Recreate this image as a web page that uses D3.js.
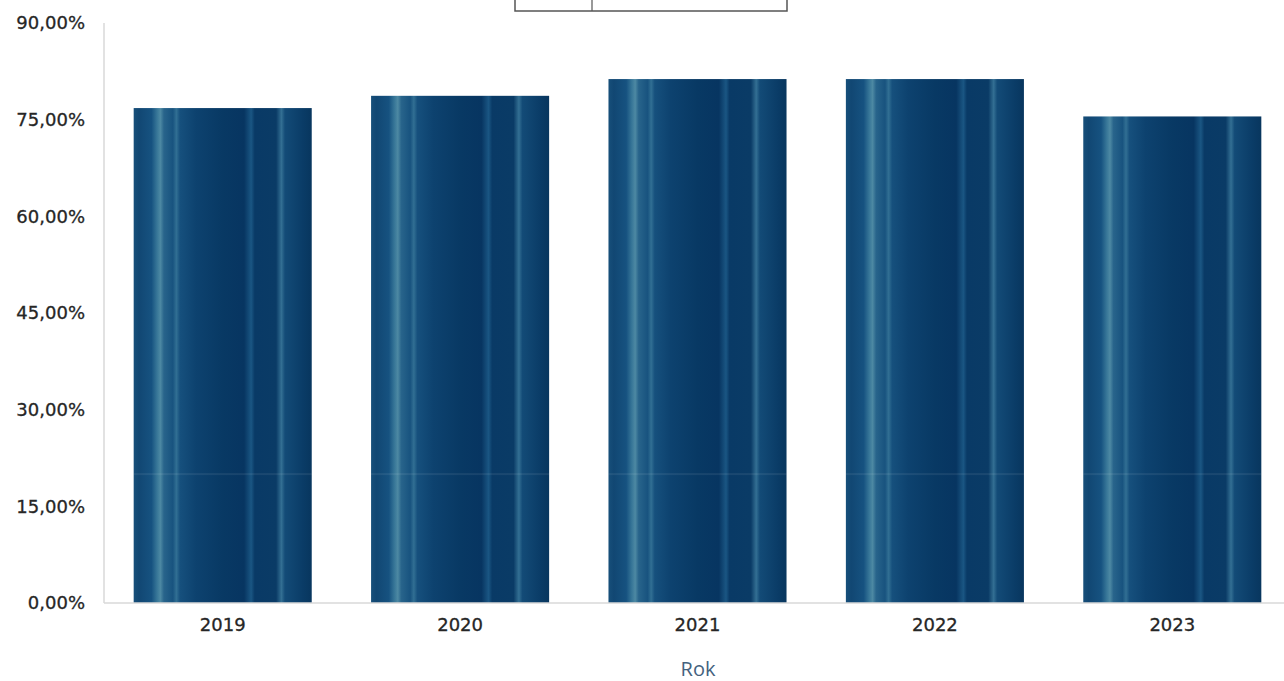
<!DOCTYPE html>
<html><head><meta charset="utf-8">
<script src="https://cdn.jsdelivr.net/npm/d3@7"></script>
<style>body{margin:0;background:#fff}svg{display:block}</style>
</head><body>
<svg id="c" width="1284" height="681"></svg>
<script>
const categories = ["2019","2020","2021","2022","2023"];
const values = [76.8, 78.7, 81.3, 81.3, 75.5];
const yTicks = [0,15,30,45,60,75,90];
const xTitle = "Rok";

const svg = d3.select("#c");
const W = 1284, H = 681;
const m = {left:104, top:23, bottom:603, right:1291};

const x = d3.scaleBand().domain(categories).range([m.left, m.right]).paddingInner(0.25).paddingOuter(0.125);
const y = d3.scaleLinear().domain([0,90]).range([m.bottom, m.top]);

const defs = svg.append("defs");
const g = defs.append("linearGradient").attr("id","barg").attr("x1","0").attr("x2","1").attr("y1","0").attr("y2","0");
[[0,"#174f7a"],[0.03,"#114773"],[0.10,"#165280"],[0.13,"#367597"],[0.15,"#4d89a3"],[0.17,"#28648b"],[0.22,"#18537f"],[0.24,"#316f93"],[0.26,"#16507d"],[0.35,"#0d426f"],[0.5,"#083964"],[0.62,"#073561"],[0.66,"#1a5683"],[0.68,"#093a66"],[0.8,"#0a3b66"],[0.83,"#336f93"],[0.85,"#134b77"],[0.95,"#0a3c67"],[1,"#08365e"]]
 .forEach(([o,c])=>g.append("stop").attr("offset",o).attr("stop-color",c));

// legend box fragment at top
svg.append("rect").attr("x",515).attr("y",-20).attr("width",272).attr("height",31)
  .attr("fill","#fff").attr("stroke","#555").attr("stroke-width",1.5);
svg.append("line").attr("x1",592).attr("x2",592).attr("y1",-20).attr("y2",11).attr("stroke","#555").attr("stroke-width",1.2);

// y axis line
svg.append("line").attr("x1",m.left).attr("x2",m.left).attr("y1",m.top).attr("y2",m.bottom).attr("stroke","#d9d9d9").attr("stroke-width",1.5);

// bars
svg.selectAll("rect.bar").data(categories).join("rect").attr("class","bar")
  .attr("x",d=>x(d)).attr("width",x.bandwidth())
  .attr("y",(d,i)=>y(values[i])).attr("height",(d,i)=>y(0)-y(values[i]))
  .attr("fill","url(#barg)");
// faint horizontal streak
svg.selectAll("rect.hs").data(categories).join("rect").attr("class","hs")
  .attr("x",d=>x(d)).attr("width",x.bandwidth()).attr("y",y(20)-1).attr("height",2)
  .attr("fill","#ffffff").attr("opacity",0.07);

// x axis line
svg.append("line").attr("x1",m.left).attr("x2",W).attr("y1",m.bottom).attr("y2",m.bottom).attr("stroke","#d9d9d9").attr("stroke-width",1.5);

const tf = "DejaVu Sans, sans-serif";
// y tick labels
svg.selectAll("text.yt").data(yTicks).join("text").attr("class","yt")
  .attr("x",85).attr("y",d=>y(d)).attr("dy","0.35em").attr("text-anchor","end")
  .attr("font-family",tf).attr("font-size",18).attr("fill","#262626")
  .attr("stroke","#262626").attr("stroke-width",0.3)
  .text(d=>d3.format(".2f")(d).replace(".",",")+"%");

// x tick labels
svg.selectAll("text.xt").data(categories).join("text").attr("class","xt")
  .attr("x",d=>x(d)+x.bandwidth()/2).attr("y",625).attr("dy","0.35em").attr("text-anchor","middle")
  .attr("font-family",tf).attr("font-size",18).attr("fill","#262626")
  .attr("stroke","#262626").attr("stroke-width",0.3)
  .text(d=>d);

svg.append("text").attr("x",698).attr("y",669).attr("dy","0.35em").attr("text-anchor","middle")
  .attr("font-family","Open Sans, sans-serif").attr("font-size",20).attr("fill","#44627e").text(xTitle);
</script>
</body></html>
